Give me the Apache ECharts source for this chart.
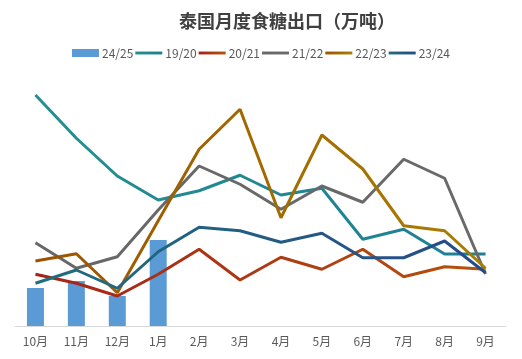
<!DOCTYPE html>
<html><head><meta charset="utf-8">
<script src="https://cdn.jsdelivr.net/npm/echarts@6/dist/echarts.min.js"></script>
<style>html,body{margin:0;padding:0;background:#fff}#c{width:522px;height:359px}</style>
</head><body><div id="c"></div>
<script>
const categories = ['10月','11月','12月','1月','2月','3月','4月','5月','6月','7月','8月','9月'];
const s2425 = [15.2, 18, 12, 34.4, null, null, null, null, null, null, null, null];
const s1920 = [92.4, 75.1, 60, 50.4, 54.1, 60.3, 52.4, 55.1, 34.7, 38.7, 28.8, 28.8];
const s2021 = [20.7, 17.1, 12, 20.7, 30.7, 18.4, 27.5, 22.7, 30.7, 19.7, 23.7, 22.7];
const s2122 = [33.3, 23.1, 27.7, 46.4, 64, 56.7, 46.7, 56, 49.5, 66.7, 59.1, 20.8];
const s2223 = [26, 28.9, 13.3, 42.1, 70.7, 86.7, 43.3, 76.4, 62.8, 40.1, 38.1, 23.1];
const s2324 = [17.1, 22.4, 15.1, 29.7, 39.5, 38.1, 33.5, 37.1, 27.3, 27.3, 34, 21.3];

const FONT = '"Noto Sans CJK SC", "Noto Sans", sans-serif';
const LINE_ICON = 'path://M0,0H28V3H0Z';
function grad(a, b) {
  return new echarts.graphic.LinearGradient(0, 0, 1, 0, [{offset: 0, color: a}, {offset: 1, color: b}]);
}
function line(name, data, c1, c2) {
  return {
    name, type: 'line', data, symbol: 'none', smooth: false,
    lineStyle: {width: 3, color: grad(c1, c2)},
    itemStyle: {color: grad(c1, c2)},
    emphasis: {disabled: true}
  };
}
const chart = echarts.init(document.getElementById('c'), null, {renderer: 'canvas'});
chart.setOption({
  animation: false,
  backgroundColor: '#fff',
  title: {
    text: '泰国月度食糖出口（万吨）',
    left: 174, top: 7,
    textStyle: {fontFamily: FONT, fontSize: 18, fontWeight: 'bold', color: '#404040'}
  },
  legend: {
    top: 42, left: 'center',
    itemWidth: 27, itemHeight: 8, itemGap: 2,
    symbolKeepAspect: true,
    textStyle: {fontFamily: FONT, fontSize: 12, color: '#595959', padding: [0, 0, 0, -2]},
    data: [
      {name: '24/25', icon: 'rect'},
      {name: '19/20', icon: LINE_ICON},
      {name: '20/21', icon: LINE_ICON},
      {name: '21/22', icon: LINE_ICON},
      {name: '22/23', icon: LINE_ICON},
      {name: '23/24', icon: LINE_ICON}
    ]
  },
  grid: {left: 15, right: 16, top: 76, bottom: 33, containLabel: false},
  xAxis: {
    type: 'category', data: categories,
    axisLine: {lineStyle: {color: '#d9d9d9', width: 1}},
    axisTick: {show: false},
    axisLabel: {fontFamily: FONT, fontSize: 12, color: '#595959', margin: 9}
  },
  yAxis: {type: 'value', min: 0, max: 100, show: false, splitLine: {show: false}},
  series: [
    {name: '24/25', type: 'bar', data: s2425, barWidth: 17, itemStyle: {color: '#5B9BD5'}},
    line('19/20', s1920, '#23908F', '#1E7F95'),
    line('20/21', s2021, '#A5221A', '#B5520C'),
    line('21/22', s2122, '#676767', '#6A6A6A'),
    line('22/23', s2223, '#9C5200', '#A88000'),
    line('23/24', s2324, '#1F6E7C', '#274A8A')
  ]
});
</script></body></html>
